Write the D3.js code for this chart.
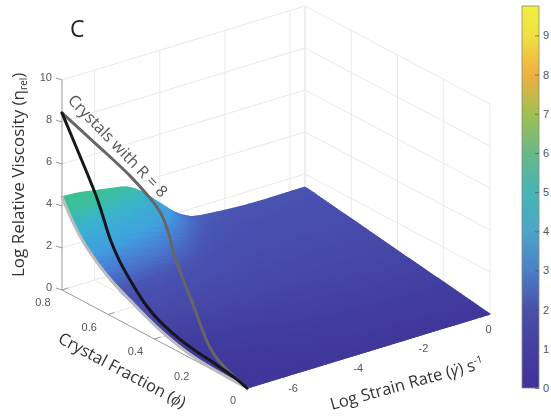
<!DOCTYPE html>
<html><head><meta charset="utf-8">
<style>html,body{margin:0;padding:0;background:#fff}svg{display:block}</style>
<script src="https://cdn.jsdelivr.net/npm/d3@7"></script></head><body>
<svg id="c" width="551" height="416"></svg>
<script>
// ---- data ----
const strainGrid = [-7,-6.5,-6,-5.5,-5,-4.5,-4,-3.5,-3,-2,-1,0,0.46];
const fractionGrid = [0.8,0.7,0.6,0.5,0.4,0.3,0.2,0.1,0];
const surface08 = [4.43,4.38,4.25,4.12,3.95,3.45,2.72,2.02,1.6,1.43,1.36,1.37,1.37];
const surface07 = [2.76,2.72,2.62,2.52,2.38,2.12,1.80,1.5,1.33,1.22,1.2,1.2,1.2];
const surface06 = [1.76,1.73,1.68,1.62,1.54,1.42,1.28,1.16,1.08,1.04,1.03,1.03,1.03];
const surface05 = [1.15,1.12,1.09,1.06,1.02,.98,.94,.9,.88,.86,.86,.86,.86];
const surface04 = [.65,.66,.66,.67,.67,.68,.68,.68,.68,.68,.68,.68,.68];
const surface03 = [.27,.3,.33,.36,.39,.42,.45,.47,.49,.5,.51,.51,.51];
const surface02 = [.08,.1,.13,.16,.19,.22,.25,.28,.3,.33,.34,.34,.34];
const surface01 = [.02,.03,.05,.06,.08,.09,.11,.13,.14,.16,.17,.17,.17];
const surface00 = [0,0,0,0,0,0,0,0,0,0,0,0,0];
const surfaceRows = [surface08,surface07,surface06,surface05,surface04,surface03,surface02,surface01,surface00];

const sphereFraction = [0.8,0.76,0.709,0.605,0.506,0.432,0.363,0.259,0.147,0.06,0];
const sphereViscosity = [4.43,3.6,2.76,1.76,1.24,0.81,0.5,0.15,0.04,0.01,0];
const lowRateFraction = [0.8,0.8,0.744,0.688,0.644,0.614,0.592,0.549,0.493,0.432,0.363,0.29,0.216,0.13,0.043,0,0];
const lowRateViscosity = [8.43,8.43,7.28,6.13,5.19,4.27,3.59,2.75,2.03,1.29,0.88,0.6,0.45,0.34,0.18,0,0];
const highRateFraction = [0.8,0.8,0.601,0.506,0.411,0.368,0.333,0.32,0.281,0.234,0.19,0.147,0.086,0.03,0,0];
const highRateViscosity = [8.43,8.43,7.59,7.19,6.56,6.19,5.25,4.61,3.6,2.69,1.51,0.71,0.35,0.11,0,0];

const zTicks = [0,2,4,6,8,10];
const fractionTicks = [0.8,0.6,0.4,0.2,0];
const fractionLabels = ["0.8","0.6","0.4","0.2","0"];
const strainTicks = [-6,-4,-2,0];
const colorbarTicks = [0,1,2,3,4,5,6,7,8,9];
const colorbarColors = ["#42309a","#453f9f","#4a50a8","#4a80c8","#4da5c8","#45b5b5","#68b888","#a0c050","#efb040","#f0e040","#f0f040"];
const colorbarStops = [0,1,2,3,4,5,6,7,8,9,9.75];
const surfaceColors = ["#3f389a","#484aa9","#4a54b2","#4a78d0","#42a0e0","#3ab4cc","#3cc09c","#3cc090"];
const surfaceStops = [0,0.8,1.38,1.85,2.45,3.4,4.05,4.5];

// ---- projection built from scales ----
const svg = d3.select("#c");
const tS = d3.scaleLinear().domain([-7,0.46]).range([0,1]);
const pS = d3.scaleLinear().domain([0,0.8]).range([0,1]);
const zS = d3.scaleLinear().domain([0,10]).range([0,210]);
const X0=247,Y0=388,DXG=243,DYG=-74,DXP=-185,DYP=-98;
const px=(g,p)=>X0+DXG*tS(g)+DXP*pS(p);
const py=(g,p,z)=>Y0+DYG*tS(g)+DYP*pS(p)-zS(z);
const surfColor=d3.scaleLinear().domain(surfaceStops).range(surfaceColors).clamp(true);

const defs=svg.append("defs");
defs.append("filter").attr("id","soft").attr("x","-5%").attr("y","-5%").attr("width","110%").attr("height","110%")
  .append("feGaussianBlur").attr("stdDeviation",0.6);
const txtSoft=defs.append("filter").attr("id","softT").attr("x","-10%").attr("y","-20%").attr("width","120%").attr("height","140%");
txtSoft.append("feGaussianBlur").attr("stdDeviation",0.3);

// ---- grid ----
const grid=svg.append("g").attr("stroke","#e9e9e9").attr("stroke-width",1).attr("fill","none");
const seg=(a,b)=>grid.append("line").attr("x1",px(a[0],a[1])).attr("y1",py(a[0],a[1],a[2])).attr("x2",px(b[0],b[1])).attr("y2",py(b[0],b[1],b[2]));
zTicks.forEach(z=>{seg([-7,.8,z],[.46,.8,z]);seg([.46,.8,z],[.46,0,z]);});
strainTicks.forEach(g=>{seg([g,.8,0],[g,.8,10]);seg([g,.8,0],[g,0,0]);});
fractionTicks.forEach(p=>{seg([.46,p,0],[.46,p,10]);seg([-7,p,0],[.46,p,0]);});
seg([.46,.8,0],[.46,.8,10]);

// ---- axes ----
const ax=svg.append("g").attr("stroke","#9a9a9a").attr("stroke-width",1).attr("fill","none");
const axl=(x1,y1,x2,y2)=>ax.append("line").attr("x1",x1).attr("y1",y1).attr("x2",x2).attr("y2",y2);
axl(px(-7,.8),py(-7,.8,0),px(-7,.8),py(-7,.8,10));
axl(px(-7,.8),py(-7,.8,0),px(-7,0),py(-7,0,0));
axl(px(-7,0),py(-7,0,0),px(.46,0),py(.46,0,0));
zTicks.forEach(z=>{const x=px(-7,.8),y=py(-7,.8,z);axl(x,y,x-6,y-2);});
fractionTicks.forEach(p=>{const x=px(-7,p),y=py(-7,p,0);axl(x,y,x+6,y-2);});
strainTicks.forEach(g=>{const x=px(g,0),y=py(g,0,0);axl(x,y,x-5,y-3);});

// ---- surface ----
const cr=(a,b,c,d,u)=>0.5*((2*b)+(c-a)*u+(2*a-5*b+4*c-d)*u*u+(3*b-a-3*c+d)*u*u*u);
const rowN=fractionGrid.length,colN=strainGrid.length;
const clampI=(i,n)=>Math.max(0,Math.min(n-1,i));
function sampleZ(ri,cj){
  const r=Math.min(Math.floor(ri),rowN-2),u=ri-r;
  const c=Math.min(Math.floor(cj),colN-2),v=cj-c;
  const rowVal=k=>{const R=surfaceRows[clampI(k,rowN)];
    return cr(R[clampI(c-1,colN)],R[c],R[c+1],R[clampI(c+2,colN)],v);};
  return Math.max(0,cr(rowVal(r-1),rowVal(r),rowVal(r+1),rowVal(r+2),u));
}
const SUB=8;
const cells=[];
const vG=cj=>{const c=Math.min(Math.floor(cj),colN-2);return strainGrid[c]+(strainGrid[c+1]-strainGrid[c])*(cj-c);};
const vP=ri=>{const r=Math.min(Math.floor(ri),rowN-2);return fractionGrid[r]+(fractionGrid[r+1]-fractionGrid[r])*(ri-r);};
for(let i=0;i<(rowN-1)*SUB;i++){
  for(let j=(colN-1)*SUB-1;j>=0;j--){
    const corners=[[i,j],[i,j+1],[i+1,j+1],[i+1,j]].map(([a,b])=>{
      const ri=a/SUB,cj=b/SUB,z=sampleZ(ri,cj),g=vG(cj),p=vP(ri);
      return {x:px(g,p),y:py(g,p,z),z};
    });
    cells.push(corners);
  }
}
const surfG=svg.append("g").attr("filter","url(#soft)");
surfG.selectAll("path").data(cells).join("path")
  .attr("d",c=>"M"+c.map(d=>d.x.toFixed(2)+","+d.y.toFixed(2)).join("L")+"Z")
  .attr("fill",c=>surfColor(d3.mean(c,d=>d.z)))
  .attr("stroke",c=>surfColor(d3.mean(c,d=>d.z)))
  .attr("stroke-width",1.3).attr("stroke-linejoin","round");

// ---- curves ----
const line=d3.line().x(d=>px(-7,d[0])).y(d=>py(-7,d[0],d[1])).curve(d3.curveBasis);
const curves=svg.append("g").attr("fill","none").attr("stroke-linecap","round").attr("stroke-linejoin","round").attr("filter","url(#soft)");
curves.append("path").attr("d",line(d3.zip(sphereFraction,sphereViscosity))).attr("stroke","#bcbcbc").attr("stroke-width",3);
curves.append("path").attr("d",line(d3.zip(highRateFraction,highRateViscosity))).attr("stroke","#666668").attr("stroke-width",3);
curves.append("path").attr("d",line(d3.zip(lowRateFraction,lowRateViscosity))).attr("stroke","#17171c").attr("stroke-width",3);

// ---- tick labels ----
const T=svg.append("g").attr("filter","url(#softT)");
const tick=(x,y,s,a)=>T.append("text").attr("x",x).attr("y",y).attr("text-anchor",a||"middle").attr("dominant-baseline","central")
  .attr("font-family","Liberation Sans").attr("font-size",11).attr("fill","#555").text(s);
zTicks.forEach(z=>tick(px(-7,.8)-10,py(-7,.8,z)-3,String(z),"end"));
fractionTicks.forEach((p,i)=>tick(px(-7,p)-19+(i==4?5:0),py(-7,p,0)+12,fractionLabels[i]));
strainTicks.forEach(g=>tick(px(g,0)+13.5,py(g,0,0)+10,String(g)));

// ---- titles ----
const title=(x,y,rot,size,fill)=>T.append("text").attr("transform",`translate(${x},${y}) rotate(${rot})`)
  .attr("font-family","Open Sans").attr("font-size",size).attr("fill",fill||"#333");
title(70,37,0,23,"#222").text("C");
const ty=title(24,277,-90,17);
ty.append("tspan").text("Log Relative Viscosity (η");
ty.append("tspan").attr("font-size",10).attr("dy",3).text("rel");
ty.append("tspan").attr("dy",-3).text(")");
const tf=title(57,342,28,16.5);
tf.append("tspan").text("Crystal Fraction (");
tf.append("tspan").attr("font-style","italic").text("ϕ");
tf.append("tspan").text(")");
const ts=title(332,410,-15.5,16.5);
ts.append("tspan").text("Log Strain Rate (");
ts.append("tspan").attr("font-style","italic").text("γ̇");
ts.append("tspan").text(") s");
ts.append("tspan").attr("font-size",10).attr("dy",-6).text("-1");
title(67,101,46,16,"#555").text("Crystals with R = 8");

// ---- colorbar ----
const cbY=d3.scaleLinear().domain([0,9.75]).range([388,6]);
const grad=defs.append("linearGradient").attr("id","cb").attr("x1",0).attr("x2",0).attr("y1",1).attr("y2",0);
colorbarStops.forEach((s,i)=>grad.append("stop").attr("offset",s/9.75).attr("stop-color",colorbarColors[i]));
svg.append("rect").attr("x",522).attr("y",cbY(9.75)).attr("width",17).attr("height",cbY(0)-cbY(9.75))
  .attr("fill","url(#cb)").attr("stroke","#8a8a78").attr("stroke-width",0.8);
const cbAxis=svg.append("g").attr("transform","translate(539,0)")
  .call(d3.axisRight(cbY).tickValues(colorbarTicks).tickSize(-4).tickPadding(4));
cbAxis.select(".domain").remove();
cbAxis.selectAll("line").attr("stroke","#555").attr("stroke-opacity",.7);
cbAxis.selectAll("text").attr("font-family","Liberation Sans").attr("font-size",11).attr("fill","#555");
</script></body></html>
